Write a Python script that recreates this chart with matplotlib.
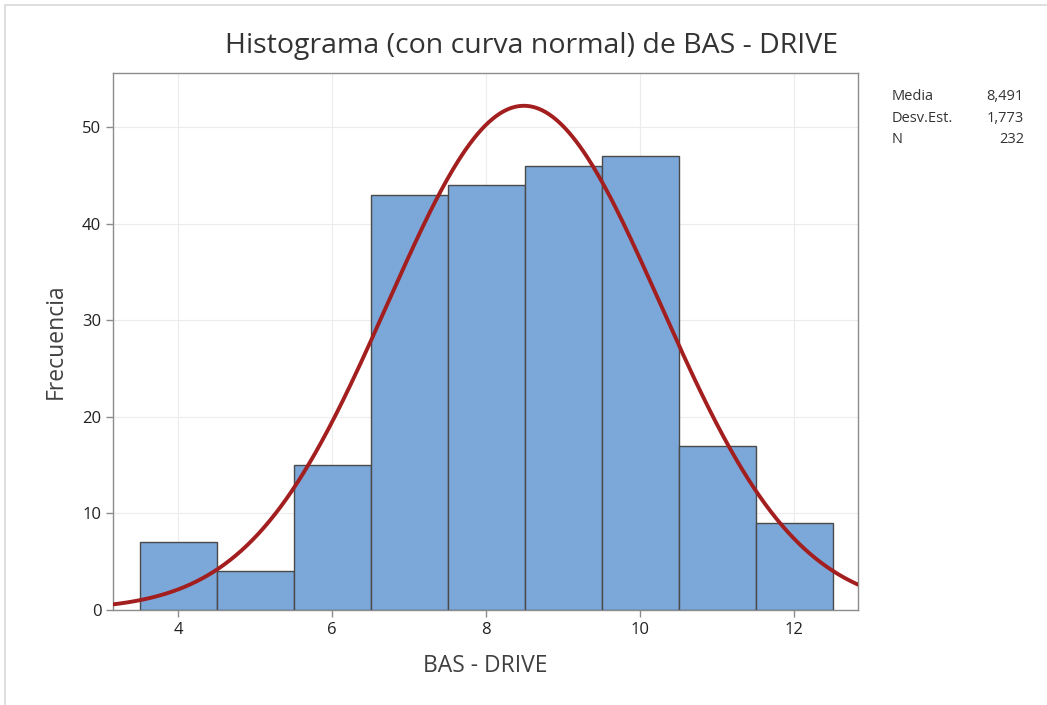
import numpy as np
import matplotlib
matplotlib.use("Agg")
import matplotlib.pyplot as plt
from matplotlib.patches import Rectangle

# ── Data ──────────────────────────────────────
bin_centers = [4, 5, 6, 7, 8, 9, 10, 11, 12]
counts = [7, 4, 15, 43, 44, 46, 47, 17, 9]
bin_width = 1.0
media = 8.491
desv_est = 1.773
n_total = 232
x_ticks = [4, 6, 8, 10, 12]
y_ticks = [0, 10, 20, 30, 40, 50]

plt.rcParams.update({
    "font.family": ["Open Sans", "DejaVu Sans"],
})

fig = plt.figure(figsize=(10.47, 7.05), dpi=100)
fig.patches.append(Rectangle((0.005, -0.01), 1.2, 1.003, transform=fig.transFigure,
                             fill=False, edgecolor="#d9d9d9", linewidth=1.2))
ax = fig.add_axes([0.108, 0.135, 0.7115, 0.7615])

ax.bar(bin_centers, counts, width=bin_width, color="#7BA7D9",
       edgecolor="#4a4a4a", linewidth=1.0, zorder=3)

# fitted normal curve scaled to counts
xs = np.linspace(3.1, 12.9, 400)
pdf = np.exp(-0.5 * ((xs - media) / desv_est) ** 2) / (desv_est * np.sqrt(2 * np.pi))
ax.plot(xs, n_total * bin_width * pdf, color="#A31E1E", linewidth=2.8, zorder=4)

ax.set_xlim(3.156, 12.83)
ax.set_ylim(0, 55.6)
ax.set_xticks(x_ticks)
ax.set_yticks(y_ticks)
ax.grid(True, color="#ececec", linewidth=0.8, zorder=0)
for s in ax.spines.values():
    s.set_color("#8c8c8c")
    s.set_linewidth(1.0)
ax.tick_params(colors="#8c8c8c", labelcolor="#222222", labelsize=12, length=5, width=1.0)

ax.set_xlabel("BAS - DRIVE", fontsize=16.5, color="#404040", labelpad=12)
ax.set_ylabel("Frecuencia", fontsize=16.5, color="#404040", labelpad=10)
fig.text(0.508, 0.935, "Histograma (con curva normal) de BAS - DRIVE",
         ha="center", va="center", fontsize=20.5, color="#333333", fontweight="medium")

# stats box
labels = ["Media", "Desv.Est.", "N"]
vals = [f"{media:.3f}".replace(".", ","), f"{desv_est:.3f}".replace(".", ","), str(n_total)]
for i, (lab, v) in enumerate(zip(labels, vals)):
    y = 0.863 - i * 0.0305
    fig.text(0.852, y, lab, ha="left", va="center", fontsize=10.5, color="#333333")
    fig.text(0.978, y, v, ha="right", va="center", fontsize=10.5, color="#333333")

fig.savefig("out.png", dpi=100, facecolor="white")
